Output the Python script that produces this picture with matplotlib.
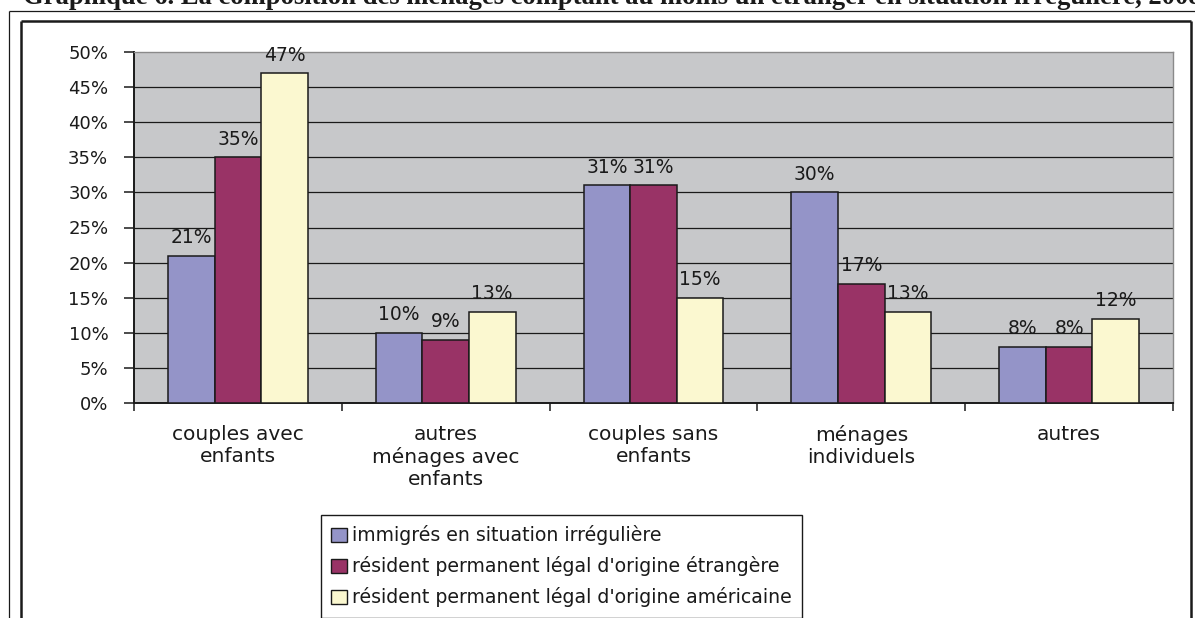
import matplotlib
matplotlib.use("Agg")
import matplotlib.pyplot as plt
from matplotlib.patches import Patch
from matplotlib.lines import Line2D
import numpy as np

categories = ["couples avec\nenfants", "autres\nménages avec\nenfants", "couples sans\nenfants",
              "ménages\nindividuels", "autres"]
series_names = ["immigrés en situation irrégulière",
                "résident permanent légal d'origine étrangère",
                "résident permanent légal d'origine américaine"]
irreguliers = [21, 10, 31, 30, 8]
legaux_etrangers = [35, 9, 31, 17, 8]
legaux_americains = [47, 13, 15, 13, 12]
yticks = [0, 5, 10, 15, 20, 25, 30, 35, 40, 45, 50]
title = "Graphique 6. La composition des ménages comptant au moins un étranger en situation irrégulière, 2008"

colors = ["#9494C8", "#993366", "#FBF8D0"]
W, H = 1195, 618
fig = plt.figure(figsize=(W / 100, H / 100), dpi=100)
fig.patch.set_facecolor("white")
FONT = "DejaVu Sans"

def fx(px):
    return px / W

def fy(py):
    return 1 - py / H

ax = fig.add_axes([fx(134), fy(403), fx(1173) - fx(134), fy(52) - fy(403)])
ax.set_facecolor("#C7C8CA")

bw = 0.224
x = np.arange(len(categories))
all_series = [irreguliers, legaux_etrangers, legaux_americains]
for i, (vals, col) in enumerate(zip(all_series, colors)):
    xs = x + (i - 1) * bw
    ax.bar(xs, vals, width=bw, color=col, edgecolor="#1a1a1a", linewidth=1.1, zorder=3)
    for xi, v in zip(xs, vals):
        ax.annotate(f"{v}%", (xi, v), xytext=(0, 9), textcoords="offset points",
                    ha="center", va="baseline", fontsize=13.5, family=FONT,
                    color="#1a1a1a", zorder=4)

ax.set_xlim(-0.5, len(categories) - 0.5)
ax.set_ylim(0, 50)
ax.set_yticks(yticks)
ax.set_yticklabels([f"{t}%" for t in yticks], fontsize=13, family=FONT, color="#1a1a1a")
for t in yticks[1:-1]:
    ax.axhline(t, color="#1a1a1a", lw=0.9, zorder=1)

ax.set_xticks(x)
ax.set_xticklabels(categories, fontsize=14.5, family=FONT, color="#1a1a1a", linespacing=1.2)
ax.set_xticks(np.arange(-0.5, len(categories)), minor=True)
ax.tick_params(axis="x", which="major", length=0, pad=16)
ax.tick_params(axis="x", which="minor", length=6, width=1.1, color="#1a1a1a", direction="out")
ax.tick_params(axis="y", length=7.5, width=1.1, color="#1a1a1a", direction="out", pad=11)

for s in ["left", "bottom"]:
    ax.spines[s].set_color("#1a1a1a")
    ax.spines[s].set_linewidth(1.4)
for s in ["top", "right"]:
    ax.spines[s].set_color("#8a8a8a")
    ax.spines[s].set_linewidth(1.0)

# legend
handles = [Patch(facecolor=c, edgecolor="#1a1a1a", linewidth=1.0) for c in colors]
leg = fig.legend(handles, series_names, loc="upper left",
                 bbox_to_anchor=(fx(321), fy(515) - 1.0, fx(802) - fx(321), 1.0),
                 mode="expand", prop={"family": FONT, "size": 13.6},
                 handlelength=0.8, handleheight=0.8, handletextpad=0.3,
                 labelspacing=0.58, borderpad=0.55, borderaxespad=0,
                 frameon=True, fancybox=False, edgecolor="#1a1a1a", framealpha=1)
leg.get_frame().set_linewidth(1.0)
for t in leg.get_texts():
    t.set_color("#1a1a1a")

# frames
def line(x0, y0, x1, y1, lw):
    fig.add_artist(Line2D([fx(x0), fx(x1)], [fy(y0), fy(y1)], color="#1a1a1a", lw=lw,
                          transform=fig.transFigure, solid_capstyle="butt"))

line(9, 11, 1200, 11, 0.9)
line(9, 11, 9, 630, 0.9)
line(21, 21, 1191, 21, 1.8)
line(21, 21, 21, 630, 1.8)
line(1191, 21, 1191, 630, 1.8)

# title (cut by the top of the image)
tt = fig.text(fx(23), fy(4.5), title, ha="left", va="baseline", fontsize=16,
              family="Liberation Serif", weight="bold", color="#1a1a1a")
fig.canvas.draw()
bb = tt.get_window_extent()
tt.set_fontsize(16 * 1180 / bb.width)

fig.savefig("out.png", dpi=100)
